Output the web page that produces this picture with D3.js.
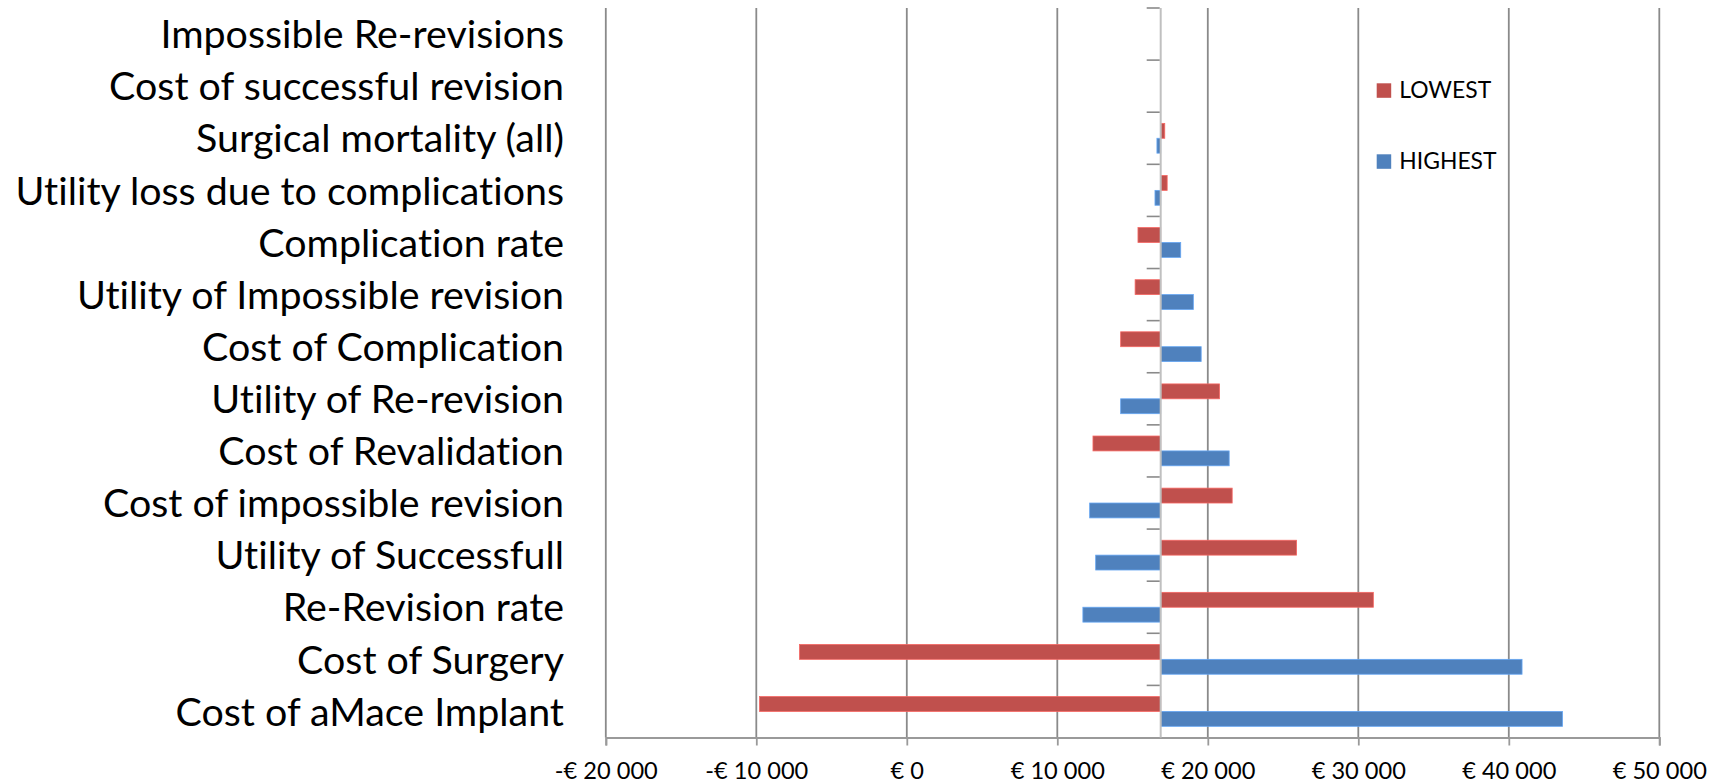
<!DOCTYPE html>
<html>
<head>
<meta charset="utf-8">
<script src="https://cdn.jsdelivr.net/npm/d3@7"></script>
<style>
  html, body { margin: 0; padding: 0; background: #ffffff; }
  svg { display: block; }
  text { font-variant-ligatures: none; font-feature-settings: "liga" 0, "clig" 0; }
</style>
</head>
<body>
<svg id="chart" width="1718" height="783"></svg>
<script>
// Tornado chart: ICER range per parameter, bars drawn from the base-case value.
const categories = [
  "Impossible Re-revisions",
  "Cost of successful revision",
  "Surgical mortality (all)",
  "Utility loss due to complications",
  "Complication rate",
  "Utility of Impossible revision",
  "Cost of Complication",
  "Utility of Re-revision",
  "Cost of Revalidation",
  "Cost of impossible revision",
  "Utility of Successfull",
  "Re-Revision rate",
  "Cost of Surgery",
  "Cost of aMace Implant"
];
const lowestValues  = [16870, 16870, 17140, 17300, 15360, 15170, 14210, 20780, 12370, 21620, 25900, 31000, -7130, -9790];
const highestValues = [16870, 16870, 16620, 16490, 18200, 19040, 19560, 14210, 21420, 12150, 12550, 11700, 40880, 43570];
const baseCase = 16870;
const seriesNames = ["LOWEST", "HIGHEST"];
const seriesColors = ["#C0504D", "#4F81BD"];
const xTickValues = [-20000, -10000, 0, 10000, 20000, 30000, 40000, 50000];

const FONT = "Lato, 'Liberation Sans', Arial, sans-serif";
const svg = d3.select("#chart");

// Fit a font size so a sample string reaches a given width.
function fitSize(sample, target) {
  const t = svg.append("text").attr("font-family", FONT).attr("font-size", 100).text(sample);
  const w = t.node().getComputedTextLength();
  t.remove();
  return 100 * target / w;
}

const plot = { left: 605.8, right: 1659.3, top: 8, bottom: 737.5 };

const x = d3.scaleLinear().domain([-20000, 50000]).range([plot.left, plot.right]);
const y = d3.scaleBand().domain(categories).range([plot.top, plot.bottom]).padding(0);
const ySeries = d3.scaleBand().domain(seriesNames).range([0, y.bandwidth()])
  .paddingInner(0).paddingOuter(0.75);

const euroLocale = d3.formatLocale({ decimal: ",", thousands: " ", grouping: [3], currency: ["€ ", ""] });
const num = euroLocale.format(",.0f");
const fmtEuro = v => (v < 0 ? "-€ " : "€ ") + num(Math.abs(v));

// Vertical gridlines
svg.append("g").selectAll("line").data(xTickValues).join("line")
  .attr("x1", d => x(d)).attr("x2", d => x(d))
  .attr("y1", plot.top).attr("y2", plot.bottom)
  .attr("stroke", "#8a8a8a").attr("stroke-width", 1.8);

// Bottom value axis
const xAxis = d3.axisBottom(x).tickValues(xTickValues).tickSize(8).tickFormat(fmtEuro);
const tickSize = fitSize("-€ 20 000", 103);
const gx = svg.append("g").attr("transform", `translate(0,${plot.bottom})`).call(xAxis);
gx.select(".domain").attr("stroke", "#9a9a9a").attr("stroke-width", 2);
gx.selectAll(".tick line").attr("stroke", "#9a9a9a").attr("stroke-width", 1.8);
gx.selectAll(".tick text")
  .attr("font-family", FONT).attr("font-size", tickSize).attr("fill", "#000")
  .attr("y", 0).attr("dy", null).attr("transform", "translate(0,41.8)");

// Bars
const rows = categories.map((c, i) => ({ cat: c, values: [lowestValues[i], highestValues[i]] }));
const barGroups = svg.append("g").selectAll("g").data(rows).join("g")
  .attr("transform", d => `translate(0,${y(d.cat)})`);
barGroups.selectAll("rect")
  .data(d => d.values.map((v, j) => ({ v, s: seriesNames[j], color: seriesColors[j] })))
  .join("rect")
  .attr("x", d => x(Math.min(d.v, baseCase)))
  .attr("width", d => Math.abs(x(d.v) - x(baseCase)))
  .attr("y", d => ySeries(d.s))
  .attr("height", ySeries.bandwidth())
  .attr("fill", d => d.color)
  .attr("stroke", d => d3.color(d.color).brighter(0.7))
  .attr("stroke-width", d => Math.abs(x(d.v) - x(baseCase)) > 0 ? 0.8 : 0);

// Category axis crossing at the base case
const catAxisX = x(baseCase);
svg.append("line")
  .attr("x1", catAxisX).attr("x2", catAxisX)
  .attr("y1", plot.top).attr("y2", plot.bottom)
  .attr("stroke", "#c0c0c0").attr("stroke-width", 2);
const boundaries = categories.map(c => y(c));
svg.append("g").selectAll("line").data(boundaries).join("line")
  .attr("x1", catAxisX - 14).attr("x2", catAxisX - 1)
  .attr("y1", d => d).attr("y2", d => d)
  .attr("stroke", "#8a8a8a").attr("stroke-width", 1.6);

// Category labels on the left
const catSize = fitSize("Utility loss due to complications", 548.7);
svg.append("g").selectAll("text").data(categories).join("text")
  .attr("x", 564)
  .attr("y", d => y(d) + y.bandwidth() / 2)
  .attr("dy", "0.36em")
  .attr("text-anchor", "end")
  .attr("font-family", FONT).attr("font-size", catSize).attr("fill", "#000")
  .text(d => d);

// Legend
const legSize = fitSize("LOWEST", 92);
const legendY = [83.3, 154.3];
const legend = svg.append("g").selectAll("g").data(seriesNames).join("g")
  .attr("transform", (d, i) => `translate(1376.7,${legendY[i]})`);
legend.append("rect").attr("width", 14.5).attr("height", 14.5)
  .attr("fill", (d, i) => seriesColors[i]);
legend.append("text").attr("x", 22.6).attr("y", 14.5)
  .attr("font-family", FONT).attr("font-size", legSize).attr("fill", "#000")
  .text(d => d);
</script>
</body>
</html>
